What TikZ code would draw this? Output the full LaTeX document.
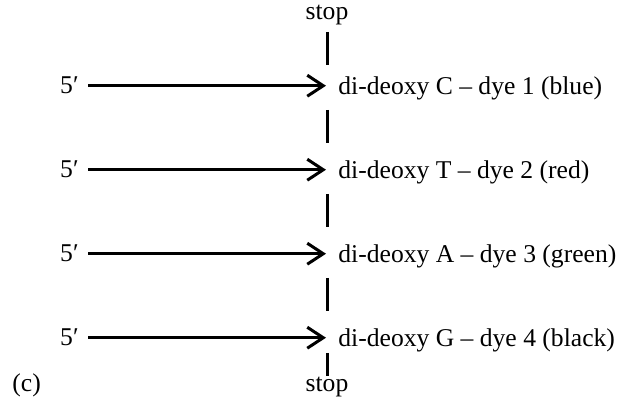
\documentclass[tikz,border=0pt]{standalone}
\usepackage{fontspec}
\setmainfont{Liberation Serif}
\usetikzlibrary{arrows.meta}

\begin{document}
\begin{tikzpicture}[x=0.5pt,y=-0.5pt,
    font=\fontsize{12.8}{15}\selectfont,
    primelab/.style={anchor=base east,inner xsep=4.5pt,inner ysep=0pt},
    dyelab/.style={anchor=base west,inner xsep=6pt,inner ysep=0pt},
    stoplab/.style={anchor=base,inner sep=0pt},
    seqarrow/.style={line width=1.6pt,-{Straight Barb[length=8pt,width=10.5pt,line width=1.5pt]}},
    stopline/.style={line width=1.5pt}]
\useasboundingbox (0,0) rectangle (623,399);

% the four chains, each ends on its terminator
\foreach \i/\y/\base/\dye/\col in {1/85/C/1/blue,2/169/T/2/red,3/253/A/3/green,4/337/G/4/black}{
    \node[primelab] (p\i) at (88,\y+9) {5′};
    \node[dyelab] (t\i) at (326,\y+10) {di-deoxy \base{} -- dye \dye{} (\col)};
    \draw[seqarrow] (p\i.east) -- (p\i.east -| t\i.west);
}

% stop line
\node[stoplab] (stoptop) at (327,20) {stop};
\node[stoplab] (stopbot) at (327,392) {stop};
\foreach \a/\b in {32/65,110/143,194/227,278/311,353/376}{
    \draw[stopline] (stoptop |- 0,\a) -- (stoptop |- 0,\b);
}

\node[anchor=base west,inner sep=0pt] (panel) at (12,392) {(c)};
\end{tikzpicture}
\end{document}
